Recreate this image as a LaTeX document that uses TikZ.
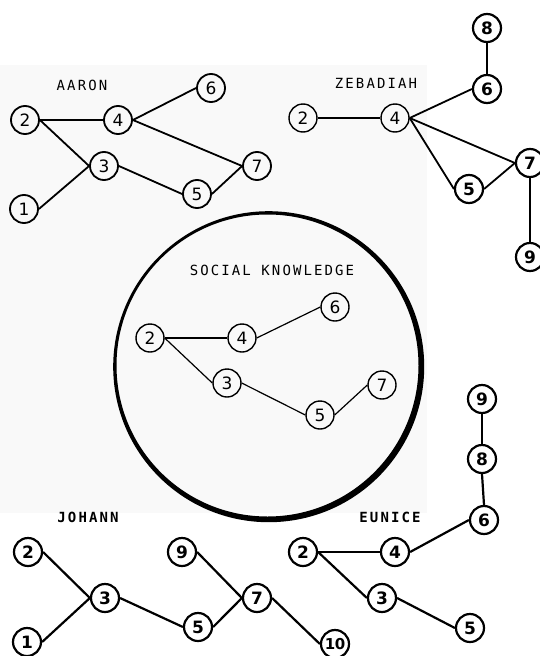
\documentclass[tikz,border=0pt]{standalone}
\usepackage{fontspec}
\setmainfont{DejaVu Sans}
\newfontfamily\numfont{DejaVu Sans}
\newfontfamily\labfont[LetterSpace=15]{DejaVu Sans Mono}
\begin{document}
\begin{tikzpicture}[x=1pt,y=-1pt,
  nd/.style={circle, draw, minimum size=28pt, inner sep=0pt, line width=1.8pt,
    font=\numfont\fontsize{17}{17}\selectfont},
  ndb/.style={nd, line width=2.2pt, font=\numfont\bfseries\fontsize{17}{17}\selectfont},
  ndl/.style={nd, line width=1.4pt},
  eg/.style={line width=1.8pt},
  egb/.style={line width=2.2pt},
  egl/.style={line width=1.2pt},
  lab/.style={font=\labfont\fontsize{14}{14}\selectfont},
  labb/.style={font=\labfont\bfseries\fontsize{14}{14}\selectfont}
]
\useasboundingbox (0,0) rectangle (540,656);
\fill[black!2.5] (0,65) rectangle (427,513);

% ---- big circle (social knowledge)
\fill[black, even odd rule] (268.7,366.7) circle[radius=155.5pt] (267.5,365.5) circle[radius=151pt];

% ---- AARON
\node[lab] (Alab) at (82,85) {AARON};
\node[nd] (A2) at (25,120) {2};
\node[nd] (A4) at (118,120) {4};
\node[nd] (A6) at (211,88) {6};
\node[nd] (A3) at (104,166) {3};
\node[nd] (A7) at (257,166) {7};
\node[nd] (A5) at (197,194) {5};
\node[nd] (A1) at (24,209) {1};
\draw[eg] (A2.east) -- (A4.west);
\draw[eg] (A2.east) -- (A3.west);
\draw[eg] (A1.east) -- (A3.west);
\draw[eg] (A4.east) -- (A6.west);
\draw[eg] (A4.east) -- (A7.west);
\draw[eg] (A3.east) -- (A5.west);
\draw[eg] (A5.east) -- (A7.west);

% ---- ZEBADIAH
\node[lab] (Zlab) at (376,83) {ZEBADIAH};
\node[ndl] (Z2) at (303,118) {2};
\node[ndl] (Z4) at (395,118) {4};
\node[ndb] (Z6) at (487,89) {6};
\node[ndb] (Z8) at (487,28) {8};
\node[ndb] (Z7) at (530,163) {7};
\node[ndb] (Z5) at (469,189) {5};
\node[ndb] (Z9) at (530,257) {9};
\draw[egl] (Z2.east) -- (Z4.west);
\draw[eg] (Z4.east) -- (Z6.west);
\draw[eg] (Z6.north) -- (Z8.south);
\draw[eg] (Z4.east) -- (Z7.west);
\draw[eg] (Z4.east) -- (Z5.west);
\draw[eg] (Z5.east) -- (Z7.west);
\draw[eg] (Z7.south) -- (Z9.north);

% ---- SOCIAL KNOWLEDGE
\node[lab] (Slab) at (272,270) {SOCIAL KNOWLEDGE};
\node[ndl] (S2) at (150,338) {2};
\node[ndl] (S4) at (242,338) {4};
\node[ndl] (S6) at (335,307) {6};
\node[ndl] (S3) at (227,383) {3};
\node[ndl] (S7) at (382,385) {7};
\node[ndl] (S5) at (320,415) {5};
\draw[egl] (S2.east) -- (S4.west);
\draw[egl] (S4.east) -- (S6.west);
\draw[egl] (S2.east) -- (S3.west);
\draw[egl] (S3.east) -- (S5.west);
\draw[egl] (S5.east) -- (S7.west);

% ---- JOHANN
\node[labb] (Jlab) at (88,517) {JOHANN};
\node[ndb] (J2) at (28,552) {2};
\node[ndb] (J3) at (105,598) {3};
\node[ndb] (J1) at (27,642) {1};
\node[ndb] (J5) at (198,627) {5};
\node[ndb] (J9) at (182,552) {9};
\node[ndb] (J7) at (257,598) {7};
\node[ndb, font=\numfont\bfseries\fontsize{15}{15}\selectfont] (J10) at (335,644) {1\kern-0.5pt0};
\draw[egb] (J2.east) -- (J3.west);
\draw[egb] (J1.east) -- (J3.west);
\draw[egb] (J3.east) -- (J5.west);
\draw[egb] (J5.east) -- (J7.west);
\draw[egb] (J9.east) -- (J7.west);
\draw[egb] (J7.east) -- (J10.west);

% ---- EUNICE
\node[labb] (Elab) at (390,517) {EUNICE};
\node[ndb] (E9) at (482,399) {9};
\node[ndb] (E8) at (482,459) {8};
\node[ndb] (E6) at (484,520) {6};
\node[ndb] (E2) at (303,552) {2};
\node[ndb] (E4) at (395,552) {4};
\node[ndb] (E3) at (382,598) {3};
\node[ndb] (E5) at (470,628) {5};
\draw[egb] (E9.south) -- (E8.north);
\draw[egb] (E8.south) -- (E6.north);
\draw[egb] (E6.west) -- (E4.east);
\draw[egb] (E2.east) -- (E4.west);
\draw[egb] (E2.east) -- (E3.west);
\draw[egb] (E3.east) -- (E5.west);
\end{tikzpicture}
\end{document}
